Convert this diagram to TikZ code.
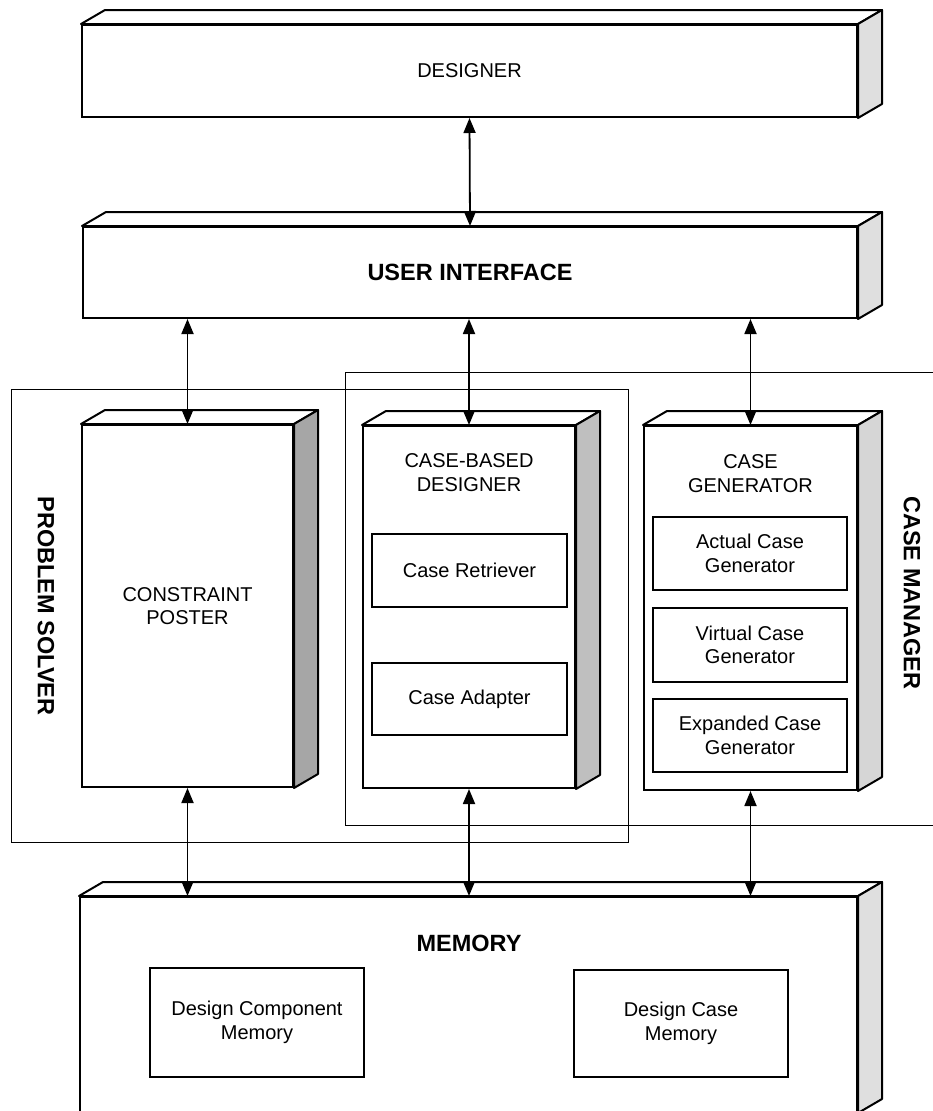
\documentclass[tikz,border=0pt]{standalone}
\usepackage{fontspec}
\setmainfont{Liberation Sans}
\usetikzlibrary{arrows.meta}

% top and right faces of a block drawn as a node
\newcommand{\sidefaces}[2]{%
  \draw[line width=2pt,line join=round,fill=white] (#1.north west) -- ++(24,-14)
    -- ([shift={(24,-14)}]#1.north east) -- (#1.north east) -- cycle;
  \draw[line width=2pt,line join=round,fill=#2] (#1.north east) -- ([shift={(24,-14)}]#1.north east)
    -- ([shift={(24,-14)}]#1.south east) -- (#1.south east) -- cycle;
}

\begin{document}
\begin{tikzpicture}[x=1pt,y=-1pt,
  module/.style={draw,line width=2pt,fill=white,inner sep=0pt,align=center,
    font=\fontsize{20}{23.5}\selectfont},
  submodule/.style={draw,line width=1.5pt,inner sep=0pt,align=center,
    minimum width=195,font=\fontsize{20}{23.5}\selectfont},
  heading/.style={align=center,inner sep=0pt,font=\fontsize{20}{24}\selectfont},
  boldhead/.style={inner sep=0pt,font=\bfseries\fontsize{23.5}{27}\selectfont},
  frame/.style={line width=1pt},
  link/.style={line width=1.8pt,{Triangle[length=15pt,width=12pt]}-{Triangle[length=15pt,width=12pt]}}]
  \useasboundingbox (0,0) rectangle (933,1111);
  \clip (0,0) rectangle (933,1111);

  % Problem solver and case manager frames
  \draw[frame] (11,389) rectangle (628,842);
  \draw[frame] (940,372) -- (345,372) -- (345,825) -- (940,825);
  \node[boldhead,rotate=-90] (pslabel) at (46,606) {PROBLEM SOLVER};
  \node[boldhead,rotate=-90] (cmlabel) at (912,593) {CASE MANAGER};

  % Designer and user interface
  \node[module,minimum width=775,minimum height=92] (designer) at (469.5,71) {DESIGNER};
  \sidefaces{designer}{gray!25}
  \node[module,boldhead,minimum width=774,minimum height=91] (ui) at (470,272.5) {USER INTERFACE};
  \sidefaces{ui}{gray!25}

  % Constraint poster
  \node[module,minimum width=211,minimum height=362] (cp) at (187.5,606) {CONSTRAINT\\POSTER};
  \sidefaces{cp}{gray!70}

  % Case-based designer
  \node[module,minimum width=212,minimum height=362] (cbd) at (469,607) {};
  \sidefaces{cbd}{gray!50}
  \node[heading] (cbdtitle) at (469,473) {CASE-BASED\\DESIGNER};
  \node[submodule,minimum height=73] (retriever) at (469.5,570.5) {Case Retriever};
  \node[submodule,minimum height=72] (adapter) at (469.5,699) {Case Adapter};

  % Case generator
  \node[module,minimum width=213,minimum height=364] (cg) at (750.5,608) {};
  \sidefaces{cg}{gray!32}
  \node[heading] (cgtitle) at (750.5,474) {CASE\\GENERATOR};
  \node[submodule,minimum width=194,minimum height=73] (actualgen) at (750,553.5) {Actual Case\\Generator};
  \node[submodule,minimum width=194,minimum height=74] (virtualgen) at (750,645) {Virtual Case\\Generator};
  \node[submodule,minimum width=194,minimum height=73] (expandedgen) at (750,735.5) {Expanded Case\\Generator};

  % Memory (runs off the bottom edge)
  \node[module,minimum width=777,minimum height=215] (mem) at (468.5,1004.5) {};
  \sidefaces{mem}{gray!25}
  \node[boldhead] (memtitle) at (469,943) {MEMORY};
  \node[submodule,minimum width=214,minimum height=109] (compmem) at (257,1022.5) {Design Component\\Memory};
  \node[submodule,minimum width=214,minimum height=107] (casemem) at (681,1023.5) {Design Case\\Memory};

  % Connectors
  \draw[link] (designer.south) -- (ui.north);
  \draw[link] (ui.south -| cp.north) -- (cp.north);
  \draw[link] (ui.south -| cbd.north) -- (cbd.north);
  \draw[link] (ui.south -| cg.north) -- (cg.north);
  \draw[link] (cp.south) -- (cp.south |- mem.north);
  \draw[link] (cbd.south) -- (cbd.south |- mem.north);
  \draw[link] (cg.south) -- (cg.south |- mem.north);
\end{tikzpicture}
\end{document}
